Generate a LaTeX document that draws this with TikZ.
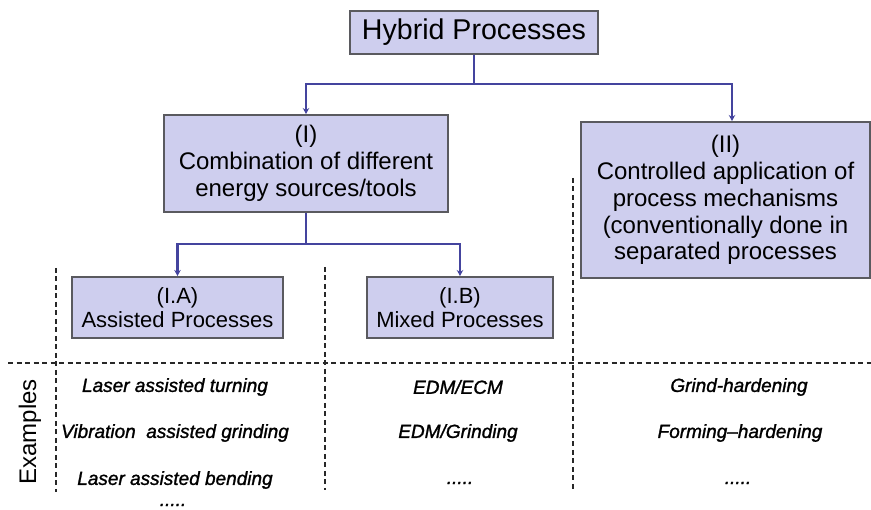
\documentclass[tikz,border=0pt]{standalone}
\usepackage{fontspec}
\setmainfont{Liberation Sans}
\newfontfamily\exfont[FakeBold=1.3]{Liberation Sans}
\usetikzlibrary{arrows.meta}
\definecolor{boxfill}{RGB}{206,206,238}
\definecolor{boxline}{RGB}{90,90,95}
\definecolor{conn}{RGB}{68,68,158}
\definecolor{dashc}{RGB}{40,40,40}
\tikzset{
  procbox/.style={draw=boxline, line width=2pt, fill=boxfill, align=center, inner sep=0pt, text=black},
  connector/.style={draw=conn, line width=2.3pt, -{Stealth[length=6pt,width=6.5pt]}},
  trunk/.style={draw=conn, line width=2.3pt},
  divider/.style={draw=dashc, line width=1.8pt, dash pattern=on 5pt off 3.5pt},
  example/.style={font=\exfont\fontsize{19}{22}\selectfont\itshape, inner sep=0pt, text=black},
}
\begin{document}
\begin{tikzpicture}[x=1pt,y=-1pt]
\useasboundingbox (0,0) rectangle (871,510);
% boxes
\node[procbox, minimum width=248pt, minimum height=43pt, font=\fontsize{28.6}{30}\selectfont] (hp) at (474,32.5) {Hybrid Processes};
\node[procbox, minimum width=284pt, minimum height=97pt, font=\fontsize{24}{27}\selectfont] (b1) at (306,163.5) {(I)\\Combination of different\\energy sources/tools};
\node[procbox, minimum width=289pt, minimum height=156pt, font=\fontsize{24}{26.8}\selectfont] (b2) at (725.5,200) {(II)\\Controlled application of\\process mechanisms\\(conventionally done in\\separated processes};
\node[procbox, minimum width=211pt, minimum height=61pt, font=\fontsize{22}{23.5}\selectfont] (ia) at (177.5,307.5) {(I.A)\\Assisted Processes};
\node[procbox, minimum width=186pt, minimum height=61pt, font=\fontsize{22}{23.5}\selectfont] (ib) at (460,307.5) {(I.B)\\Mixed Processes};
% connectors
\coordinate (j1) at (474,84);
\coordinate (j2) at (306,244);
\draw[trunk] (hp.south) -- (j1);
\draw[connector] (j1) -| (b1.north);
\draw[connector] (j1) -| ([xshift=6.5pt]b2.north);
\draw[trunk] (b1.south) -- (j2);
\draw[connector] (j2) -| (ia.north);
\draw[connector] (j2) -| (ib.north);
% dividers
\coordinate (h1) at (8,363);
\coordinate (h2) at (871,363);
\coordinate (v1a) at (56,268);
\coordinate (v1b) at (56,492);
\coordinate (v2a) at (325,267);
\coordinate (v2b) at (325,490);
\coordinate (v3a) at (573,178);
\coordinate (v3b) at (573,490);
\draw[divider] (h1) -- (h2);
\draw[divider] (v1a) -- (v1b);
\draw[divider] (v2a) -- (v2b);
\draw[divider] (v3a) -- (v3b);
% examples label
\node[rotate=90, font=\fontsize{24}{26}\selectfont, inner sep=0pt] (ex) at (30,432) {Examples};
% examples
\node[example] (e11) at (175,387) {Laser assisted turning};
\node[example] (e12) at (175,433) {Vibration\ \ assisted grinding};
\node[example] (e13) at (175,480) {Laser assisted bending};
\node[example] (e14) at (173,505) {.....};
\node[example] (e21) at (458,387) {EDM/ECM};
\node[example] (e22) at (458,433) {EDM/Grinding};
\node[example] (e23) at (460,483) {.....};
\node[example] (e31) at (739,387) {Grind-hardening};
\node[example] (e32) at (740,433) {Forming–hardening};
\node[example] (e33) at (738,483) {.....};
\end{tikzpicture}
\end{document}
